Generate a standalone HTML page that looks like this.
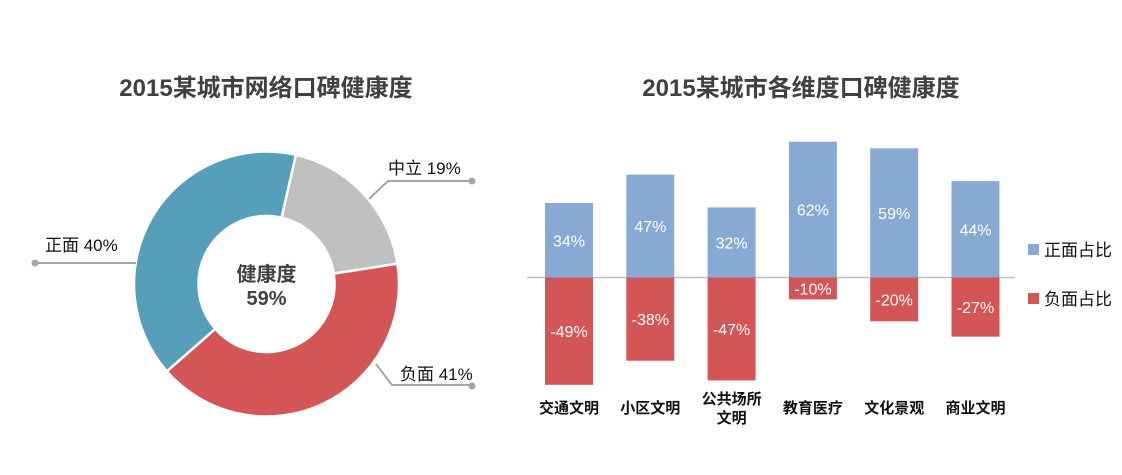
<!DOCTYPE html>
<html><head><meta charset="utf-8">
<style>
html,body{margin:0;padding:0;background:#fff;}
svg{display:block;font-family:"Liberation Sans","Noto Sans CJK SC",sans-serif;}
</style></head>
<body>
<svg id="c" width="1122" height="475" viewBox="0 0 1122 475">
  <text x="266" y="96" text-anchor="middle" font-size="24" font-weight="bold" fill="#404040">2015某城市网络口碑健康度</text>
  <text x="801" y="96" text-anchor="middle" font-size="24" font-weight="bold" fill="#404040">2015某城市各维度口碑健康度</text>
  <g id="donut"></g>
  <g id="bars"></g>
</svg>
<script>
const sliceLabels = ["中立","负面","正面"];
const sliceValues = [19,41,40];
const sliceColors = ["#c0c0c0","#d45555","#569fbb"];
const categories = ["交通文明","小区文明","公共场所\n文明","教育医疗","文化景观","商业文明"];
const positiveValues = [34,47,32,62,59,44];
const negativeValues = [-49,-38,-47,-10,-20,-27];
const seriesNames = ["正面占比","负面占比"];

const NS="http://www.w3.org/2000/svg";
function mk(tag,attrs,parent){const e=document.createElementNS(NS,tag);for(const k in attrs)e.setAttribute(k,attrs[k]);parent.appendChild(e);return e;}

// Donut
const dg=document.getElementById('donut');
const cx=266.5,cy=284,R=132.5,r=68;
const total=sliceValues.reduce((a,b)=>a+b,0);
let ang=12.8;
function pt(a,rad){const t=(a-90)*Math.PI/180;return [cx+rad*Math.cos(t),cy+rad*Math.sin(t)];}
sliceValues.forEach((v,i)=>{
  const a0=ang,a1=ang+v/total*360;ang=a1;
  const large=(a1-a0)>180?1:0;
  const p0=pt(a0,R),p1=pt(a1,R),q1=pt(a1,r),q0=pt(a0,r);
  const p=mk('path',{d:`M${p0[0]},${p0[1]}A${R},${R} 0 ${large} 1 ${p1[0]},${p1[1]}L${q1[0]},${q1[1]}A${r},${r} 0 ${large} 0 ${q0[0]},${q0[1]}Z`,fill:sliceColors[i],stroke:"#fff","stroke-width":2.5},dg);
  
  
});
const lc="#a6a6a6";
function leader(pts,dot,txt,tx,ty,name){
  const g=mk('g',{},dg);
  
  
  mk('polyline',{points:pts,fill:"none",stroke:lc,"stroke-width":2},g);
  mk('circle',{cx:dot[0],cy:dot[1],r:3.5,fill:lc},g);
  const t=mk('text',{x:tx,y:ty,"font-size":17,fill:"#111"},g);t.textContent=txt;
}
leader("369,199 388,181 472,181",[472,181],sliceLabels[0]+" "+sliceValues[0]+"%",388,174,"label-neutral");
leader("376,364 392,385 472,385",[472,386],sliceLabels[1]+" "+sliceValues[1]+"%",400,380,"label-negative");
leader("136,263 35,263",[35,263],sliceLabels[2]+" "+sliceValues[2]+"%",45,251,"label-positive");
let t1=mk('text',{x:cx,y:281,"text-anchor":"middle","font-size":20,"font-weight":"bold",fill:"#404040"},dg);t1.textContent="健康度";

let t2=mk('text',{x:cx,y:305,"text-anchor":"middle","font-size":20,"font-weight":"bold",fill:"#404040"},dg);t2.textContent=(100-sliceValues[1])+"%";


// Bars
const bg=document.getElementById('bars');
const zeroY=277.5;
function yScale(v){return zeroY-2.19*v;}
function xC(i){return 569+i*81.3;}
const bw=48;
const axis=mk('line',{x1:527,y1:zeroY,x2:1015,y2:zeroY,stroke:"#bfbfbf","stroke-width":1.5},bg);

categories.forEach((c,i)=>{
  const x=xC(i)-bw/2;
  const yp=yScale(positiveValues[i]);
  const b1=mk('rect',{x:x,y:yp,width:bw,height:zeroY-yp,fill:"#88a9d3"},bg);
  
  const yn=yScale(negativeValues[i]);
  const b2=mk('rect',{x:x,y:zeroY,width:bw,height:yn-zeroY,fill:"#d45555"},bg);
  
  const l1=mk('text',{x:xC(i),y:(yp+zeroY)/2+6,"text-anchor":"middle","font-size":16,fill:"#fff"},bg);l1.textContent=positiveValues[i]+"%";
  
  const l2=mk('text',{x:xC(i),y:(yn+zeroY)/2+6,"text-anchor":"middle","font-size":16,fill:"#fff"},bg);l2.textContent=negativeValues[i]+"%";
  
  const lines=c.split("\n");
  lines.forEach((ln,j)=>{
    const y=lines.length>1?404+j*19:413;
    const t=mk('text',{x:xC(i),y:y,"text-anchor":"middle","font-size":15,"font-weight":"bold",fill:"#111"},bg);t.textContent=ln;
    
  });
});
const legColors=["#88a9d3","#d45555"];
seriesNames.forEach((s,i)=>{
  const y=250+i*49;
  const sq=mk('rect',{x:1028,y:y-6,width:11,height:11,fill:legColors[i]},bg);
  
  const t=mk('text',{x:1044,y:y+6,"font-size":17,fill:"#111"},bg);t.textContent=s;
  
});
</script>
</body></html>
